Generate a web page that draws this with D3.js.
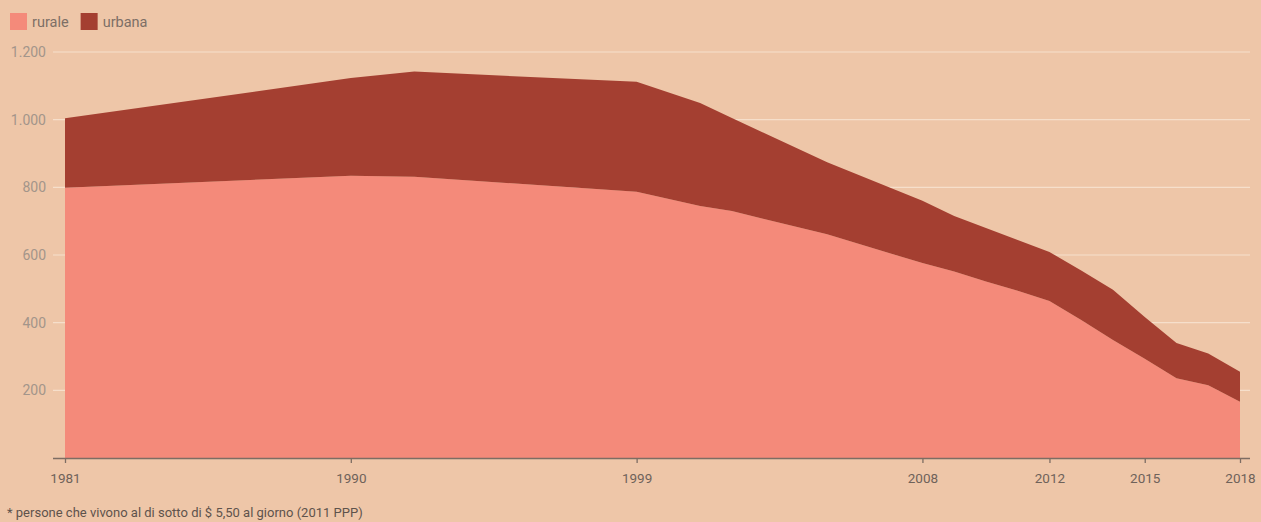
<!DOCTYPE html>
<html>
<head>
<meta charset="utf-8">
<script src="https://cdn.jsdelivr.net/npm/d3@7"></script>
<style>
  html, body { margin: 0; padding: 0; background: #eec6a8; }
  body { width: 1261px; height: 522px; overflow: hidden; font-family: Roboto, "Noto Sans", sans-serif; }
</style>
</head>
<body>
<div id="chart"></div>
<script>
  // values (milioni di persone)
  var years   = [1981, 1990, 1992, 1999, 2001, 2002, 2005, 2008, 2009, 2010, 2011, 2012, 2013, 2014, 2015, 2016, 2017, 2018];
  var rurale  = [ 799,  834,  831,  787,  745,  730,  661,  576,  551,  522,  494,  464,  408,  349,  293,  236,  215,  166];
  var urbana  = [ 205,  289,  311,  325,  304,  275,  213,  184,  164,  158,  150,  145,  146,  148,  124,  104,   94,   89];
  var xTicks  = [1981, 1990, 1999, 2008, 2012, 2015, 2018];
  var yTicks  = [200, 400, 600, 800, 1000, 1200];
  var seriesNames = ['rurale', 'urbana'];
  var colors = { rurale: '#f48a7a', urbana: '#a43f31' };

  var W = 1261, H = 522;
  var x = d3.scaleLinear().domain([1981, 2018]).range([65, 1240]);
  var y = d3.scaleLinear().domain([0, 1200]).range([458, 52]);

  var rows = years.map(function (yr, i) { return { year: yr, rurale: rurale[i], urbana: urbana[i] }; });
  var stacked = d3.stack().keys(seriesNames)(rows);

  var svg = d3.select('#chart').append('svg').attr('width', W).attr('height', H);

  // gridlines
  svg.append('g').selectAll('line').data(yTicks).enter().append('line')
    .attr('x1', 53).attr('x2', 1250)
    .attr('y1', function (d) { return y(d); }).attr('y2', function (d) { return y(d); })
    .attr('stroke', '#f6dfcb').attr('stroke-width', 1.2);

  // y labels
  svg.append('g').selectAll('text').data(yTicks).enter().append('text')
    .attr('x', 46).attr('y', function (d) { return y(d); })
    .attr('text-anchor', 'end').attr('dominant-baseline', 'central')
    .attr('fill', '#a3958a').attr('font-size', 14)
    .text(function (d) { return d3.format(',')(d).replace(/,/g, '.'); });

  // areas
  var area = d3.area()
    .x(function (d) { return x(d.data.year); })
    .y0(function (d) { return y(d[0]); })
    .y1(function (d) { return y(d[1]); });

  svg.append('g').selectAll('path').data(stacked).enter().append('path')
    .attr('d', area)
    .attr('fill', function (d) { return colors[d.key]; });

  // x axis
  var xAxis = d3.axisBottom(x).tickValues(xTicks).tickFormat(d3.format('d')).tickSize(5).tickSizeOuter(0);
  var ax = svg.append('g').attr('transform', 'translate(0,' + y(0) + ')').call(xAxis);
  ax.select('.domain').attr('d', 'M53,0.5H1250').attr('stroke', '#7d6d63').attr('stroke-width', 1.5);
  ax.selectAll('.tick line').attr('stroke', '#7d6d63').attr('stroke-width', 1.3);
  ax.selectAll('.tick text').attr('y', 15).attr('fill', '#6e625a').attr('font-size', 13.5)
    .attr('font-family', 'Roboto, sans-serif');

  // legend
  var leg = svg.append('g').attr('transform', 'translate(10,13)');
  var lx = 0;
  seriesNames.forEach(function (k) {
    leg.append('rect').attr('x', lx).attr('y', 0).attr('width', 17).attr('height', 17).attr('fill', colors[k]);
    var t = leg.append('text').attr('x', lx + 22).attr('y', 9).attr('dominant-baseline', 'central')
      .attr('fill', '#7d6f66').attr('font-size', 14.5).text(k);
    lx += 22 + t.node().getComputedTextLength() + 12;
  });

  // footnote
  svg.append('text').attr('x', 7).attr('y', 517)
    .attr('fill', '#5e534c').attr('font-size', 13)
    .text('* persone che vivono al di sotto di $ 5,50 al giorno (2011 PPP)');
</script>
</body>
</html>
